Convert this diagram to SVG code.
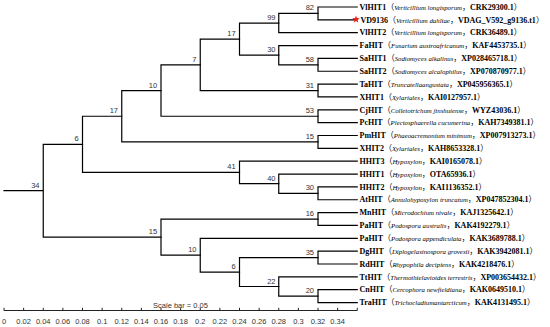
<svg xmlns="http://www.w3.org/2000/svg" width="550" height="327" viewBox="0 0 550 327">
<style>
.edge{fill:none;stroke:#000;stroke-width:1.2;stroke-linecap:square}
.bl{font-family:"Liberation Sans",Arial,sans-serif;font-size:7.5px;fill:#333;text-anchor:end}
.leaf{font-family:"Liberation Serif","Noto Sans CJK SC",serif;font-size:8px;fill:#000}
.b{font-weight:bold}
.i{font-style:italic;font-size:6.8px}
.ax{stroke:#222;stroke-width:1;fill:none}
.tk{font-family:"Liberation Sans",Arial,sans-serif;font-size:7.5px;fill:#333;text-anchor:middle}
</style>
<rect width="550" height="327" fill="#fff"/>
<g id="connectors" class="edge">
<path d="M4,190.7H43.25M82.5,144.33H43.25V237.1H161"/>
<path d="M121.75,116.225H82.5V172.44H239.5"/>
<path d="M161,90.525H121.75V141.925H318"/>
<path d="M200.25,64.825H161V116.225H318"/>
<path d="M239.5,39.125H200.25V90.525H318"/>
<path d="M278.75,23.06H239.5V55.19H278.75"/>
<path d="M318,13.425H278.75V32.7H357.25"/>
<path d="M357.25,7H318V19.85H357.25"/>
<path d="M357.25,45.55H278.75V64.825H318"/>
<path d="M357.25,58.4H318V71.25H357.25"/>
<path d="M357.25,84.1H318V96.95H357.25"/>
<path d="M357.25,109.8H318V122.65H357.25"/>
<path d="M357.25,135.5H318V148.35H357.25"/>
<path d="M357.25,161.2H239.5V183.69H278.75"/>
<path d="M357.25,174.05H278.75V193.325H318"/>
<path d="M357.25,186.9H318V199.75H357.25"/>
<path d="M318,219.025H161V255.17H200.25"/>
<path d="M357.25,212.6H318V225.45H357.25"/>
<path d="M357.25,238.3H200.25V272.03H239.5"/>
<path d="M318,257.575H239.5V286.49H278.75"/>
<path d="M357.25,251.15H318V264H357.25"/>
<path d="M357.25,276.85H278.75V296.125H318"/>
<path d="M357.25,289.7H318V302.55H357.25"/>
</g>
<g id="bootstrap">
<g id="n34"><text class="bl" x="39.5" y="187.7">34</text></g>
<g id="n6a"><text class="bl" x="78.7" y="141.3">6</text></g>
<g id="n17b"><text class="bl" x="118" y="113.2">17</text></g>
<g id="n10a"><text class="bl" x="157.2" y="87.5">10</text></g>
<g id="n7"><text class="bl" x="196.5" y="61.8">7</text></g>
<g id="n17a"><text class="bl" x="235.7" y="36.1">17</text></g>
<g id="n99"><text class="bl" x="275.5" y="20">99</text></g>
<g id="n82"><text class="bl" x="314" y="10.4">82</text></g>
<g id="n30a"><text class="bl" x="275.5" y="52.2">30</text></g>
<g id="n58"><text class="bl" x="314" y="61.8">58</text></g>
<g id="n31"><text class="bl" x="314" y="87.5">31</text></g>
<g id="n53"><text class="bl" x="314" y="113.2">53</text></g>
<g id="n15a"><text class="bl" x="314" y="138.9">15</text></g>
<g id="n41"><text class="bl" x="235.7" y="169.4">41</text></g>
<g id="n40"><text class="bl" x="275.5" y="180.7">40</text></g>
<g id="n30b"><text class="bl" x="314" y="190.3">30</text></g>
<g id="n15b"><text class="bl" x="157.2" y="234.1">15</text></g>
<g id="n16"><text class="bl" x="314" y="216">16</text></g>
<g id="n10b"><text class="bl" x="196.5" y="252.2">10</text></g>
<g id="n6b"><text class="bl" x="235.7" y="269">6</text></g>
<g id="n35"><text class="bl" x="314" y="254.6">35</text></g>
<g id="n22"><text class="bl" x="275.5" y="283.5">22</text></g>
<g id="n20"><text class="bl" x="314" y="293.1">20</text></g>
</g>
<g id="leaves">
<g id="VlHIT1"><text class="leaf" x="359.5" y="9.7"><tspan class="b">VlHIT1</tspan>（<tspan class="i">Verticillium longisporum</tspan>，<tspan class="b">CRK29300.1</tspan>）</text></g>
<g id="VD9136"><polygon fill="#e8231e" transform="translate(356,19.4)" points="0,-4 0.94,-1.294 3.804,-1.236 1.522,0.494 2.351,3.236 0,1.6 -2.351,3.236 -1.522,0.494 -3.804,-1.236 -0.94,-1.294"/><text class="leaf" x="360.5" y="22.55"><tspan class="b">VD9136</tspan>（<tspan class="i">Verticillium dahliae</tspan>，<tspan class="b">VDAG_V592_g9136.t1</tspan>）</text></g>
<g id="VlHIT2"><text class="leaf" x="359.5" y="35.4"><tspan class="b">VlHIT2</tspan>（<tspan class="i">Verticillium longisporum</tspan>，<tspan class="b">CRK36489.1</tspan>）</text></g>
<g id="FaHIT"><text class="leaf" x="359.5" y="48.25"><tspan class="b">FaHIT</tspan>（<tspan class="i">Fusarium austroafricanum</tspan>，<tspan class="b">KAF4453735.1</tspan>）</text></g>
<g id="SaHIT1"><text class="leaf" x="359.5" y="61.1"><tspan class="b">SaHIT1</tspan>（<tspan class="i">Sodiomyces alkalinus</tspan>，<tspan class="b">XP028465718.1</tspan>）</text></g>
<g id="SaHIT2"><text class="leaf" x="359.5" y="73.95"><tspan class="b">SaHIT2</tspan>（<tspan class="i">Sodiomyces alcalophilus</tspan>，<tspan class="b">XP070870977.1</tspan>）</text></g>
<g id="TaHIT"><text class="leaf" x="359.5" y="86.8"><tspan class="b">TaHIT</tspan>（<tspan class="i">Truncatellaangustata</tspan>，<tspan class="b">XP045956365.1</tspan>）</text></g>
<g id="XHIT1"><text class="leaf" x="359.5" y="99.65"><tspan class="b">XHIT1</tspan>（<tspan class="i">Xylariales</tspan>，<tspan class="b">KAI0127957.1</tspan>）</text></g>
<g id="CjHIT"><text class="leaf" x="359.5" y="112.5"><tspan class="b">CjHIT</tspan>（<tspan class="i">Colletotrichum jinshuiense</tspan>，<tspan class="b">WYZ43036.1</tspan>）</text></g>
<g id="PcHIT"><text class="leaf" x="359.5" y="125.35"><tspan class="b">PcHIT</tspan>（<tspan class="i">Plectosphaerella cucumerina</tspan>，<tspan class="b">KAH7349381.1</tspan>）</text></g>
<g id="PmHIT"><text class="leaf" x="359.5" y="138.2"><tspan class="b">PmHIT</tspan>（<tspan class="i">Phaeoacremonium minimum</tspan>，<tspan class="b">XP007913273.1</tspan>）</text></g>
<g id="XHIT2"><text class="leaf" x="359.5" y="151.05"><tspan class="b">XHIT2</tspan>（<tspan class="i">Xylariales</tspan>，<tspan class="b">KAH8653328.1</tspan>）</text></g>
<g id="HHIT3"><text class="leaf" x="359.5" y="163.9"><tspan class="b">HHIT3</tspan>（<tspan class="i">Hypoxylon</tspan>，<tspan class="b">KAI0165078.1</tspan>）</text></g>
<g id="HHIT1"><text class="leaf" x="359.5" y="176.75"><tspan class="b">HHIT1</tspan>（<tspan class="i">Hypoxylon</tspan>，<tspan class="b">OTA65936.1</tspan>）</text></g>
<g id="HHIT2"><text class="leaf" x="359.5" y="189.6"><tspan class="b">HHIT2</tspan>（<tspan class="i">Hypoxylon</tspan>，<tspan class="b">KAI1136352.1</tspan>）</text></g>
<g id="AtHIT"><text class="leaf" x="359.5" y="202.45"><tspan class="b">AtHIT</tspan>（<tspan class="i">Annulohypoxylon truncatum</tspan>，<tspan class="b">XP047852304.1</tspan>）</text></g>
<g id="MnHIT"><text class="leaf" x="359.5" y="215.3"><tspan class="b">MnHIT</tspan>（<tspan class="i">Microdochium nivale</tspan>，<tspan class="b">KAJ1325642.1</tspan>）</text></g>
<g id="PaHIT-australis"><text class="leaf" x="359.5" y="228.15"><tspan class="b">PaHIT</tspan>（<tspan class="i">Podospora australis</tspan>，<tspan class="b">KAK4192279.1</tspan>）</text></g>
<g id="PaHIT-appendiculata"><text class="leaf" x="359.5" y="241"><tspan class="b">PaHIT</tspan>（<tspan class="i">Podospora appendiculata</tspan>，<tspan class="b">KAK3689788.1</tspan>）</text></g>
<g id="DgHIT"><text class="leaf" x="359.5" y="253.85"><tspan class="b">DgHIT</tspan>（<tspan class="i">Diplogelasinospora grovesii</tspan>，<tspan class="b">KAK3942081.1</tspan>）</text></g>
<g id="RdHIT"><text class="leaf" x="359.5" y="266.7"><tspan class="b">RdHIT</tspan>（<tspan class="i">Rhypophila decipiens</tspan>，<tspan class="b">KAK4218476.1</tspan>）</text></g>
<g id="TtHIT"><text class="leaf" x="359.5" y="279.55"><tspan class="b">TtHIT</tspan>（<tspan class="i">Thermothielavioides terrestris</tspan>，<tspan class="b">XP003654432.1</tspan>）</text></g>
<g id="CnHIT"><text class="leaf" x="359.5" y="292.4"><tspan class="b">CnHIT</tspan>（<tspan class="i">Cercophora newfieldiana</tspan>，<tspan class="b">KAK0649510.1</tspan>）</text></g>
<g id="TraHIT"><text class="leaf" x="359.5" y="305.25"><tspan class="b">TraHIT</tspan>（<tspan class="i">Trichocladiumantarcticum</tspan>，<tspan class="b">KAK4131495.1</tspan>）</text></g>
</g>
<g id="axis">
<text class="tk" x="180.5" y="307.5">Scale bar = 0.05</text>
<path class="ax" d="M4,310.5H357.25M4,307.8V310.5M23.63,307.8V310.5M43.25,307.8V310.5M62.88,307.8V310.5M82.5,307.8V310.5M102.13,307.8V310.5M121.75,307.8V310.5M141.38,307.8V310.5M161,307.8V310.5M180.63,307.8V310.5M200.25,307.8V310.5M219.88,307.8V310.5M239.5,307.8V310.5M259.13,307.8V310.5M278.75,307.8V310.5M298.38,307.8V310.5M318,307.8V310.5M337.63,307.8V310.5M357.25,307.8V310.5"/>
<text class="tk" x="4" y="324">0</text>
<text class="tk" x="23.63" y="324">0.02</text>
<text class="tk" x="43.25" y="324">0.04</text>
<text class="tk" x="62.88" y="324">0.06</text>
<text class="tk" x="82.5" y="324">0.08</text>
<text class="tk" x="102.13" y="324">0.1</text>
<text class="tk" x="121.75" y="324">0.12</text>
<text class="tk" x="141.38" y="324">0.14</text>
<text class="tk" x="161" y="324">0.16</text>
<text class="tk" x="180.63" y="324">0.18</text>
<text class="tk" x="200.25" y="324">0.2</text>
<text class="tk" x="219.88" y="324">0.22</text>
<text class="tk" x="239.5" y="324">0.24</text>
<text class="tk" x="259.13" y="324">0.26</text>
<text class="tk" x="278.75" y="324">0.28</text>
<text class="tk" x="298.38" y="324">0.3</text>
<text class="tk" x="318" y="324">0.32</text>
<text class="tk" x="337.63" y="324">0.34</text>
</g>
</svg>
